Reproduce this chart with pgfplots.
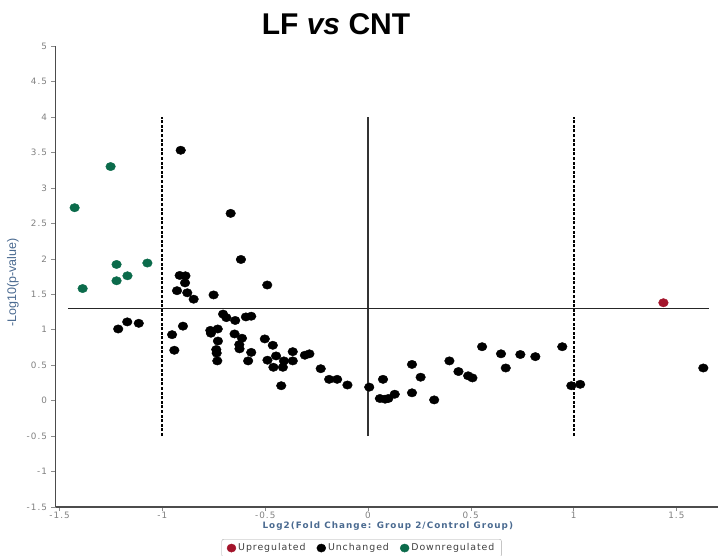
\documentclass[border=0pt]{standalone}
\usepackage{fontspec}
\setmainfont{Liberation Sans}
\newfontfamily\jfont[LetterSpace=12]{DejaVu Sans}
\newfontfamily\lfont[LetterSpace=10]{DejaVu Sans}
\usepackage{pgfplots}
\pgfplotsset{compat=1.18}
\definecolor{downc}{HTML}{0B6B4B}
\definecolor{upc}{HTML}{A3142B}
\definecolor{labc}{HTML}{4A6A90}
\begin{document}
\begin{tikzpicture}
\begin{axis}[
  at={(55.5pt,48pt)}, anchor=south west,
  scale only axis, width=662pt, height=461pt,
  xmin=-1.52, xmax=1.70, ymin=-1.5, ymax=5,
  axis x line=bottom, axis y line=left,
  axis line style={-, draw=black!70, line width=1.3pt},
  xtick={-1.5,-1,-0.5,0,0.5,1,1.5},
  ytick={-1.5,-1,-0.5,0,0.5,1,1.5,2,2.5,3,3.5,4,4.5,5},
  tick align=outside, major tick length=4pt,
  tick style={black!45, line width=0.5pt},
  /pgf/number format/assume math mode=true,
  ticklabel style={font=\jfont\fontsize{8.8}{10}\selectfont, text=black!50},
  xticklabel style={yshift=2.5pt},
  yticklabel style={xshift=-1pt},
  xlabel={Log2(Fold Change: Group 2/Control Group)},
  ylabel={-Log10(p-value)},
  x label style={at={(axis description cs:0.502,-0.0425)}, anchor=center, font=\jfont\bfseries\fontsize{8.8}{10}\selectfont, text=labc},
  y label style={at={(axis description cs:-0.0645,0.4865)}, anchor=center, font=\fontsize{12.5}{13}\selectfont, text=labc},
  legend columns=3,
  legend style={at={(0.4624,-0.0695)}, anchor=north, draw=black!35, rounded corners=2pt,
    font=\lfont\fontsize{9.4}{11}\selectfont, text=black!75, inner ysep=2.5pt, inner xsep=5pt,
    /tikz/every even column/.append style={column sep=9pt}},
  legend image code/.code={\fill[#1] (0pt,0pt) circle[x radius=4.5pt, y radius=4.1pt];},
  clip=false,
]
\addplot[forget plot, black, line width=2pt, dash pattern=on 3pt off 1.6pt] coordinates {(-1,-0.5) (-1,4)};
\addplot[forget plot, black, line width=2pt, dash pattern=on 3pt off 1.6pt] coordinates {(1,-0.5) (1,4)};
\addplot[forget plot, black!80, line width=2pt] coordinates {(0,-0.5) (0,4)};
\addplot[forget plot, black!85, line width=1.1pt] coordinates {(-1.46,1.301) (1.66,1.301)};
\addplot[only marks, mark=*, mark size=4.2pt, mark options={xscale=1.15, draw=upc, fill=upc}, draw=upc, fill=upc] coordinates {(1.437,1.38)};
\addlegendentry{Upregulated}
\addplot[only marks, mark=*, mark size=4.2pt, mark options={xscale=1.15, draw=black, fill=black}, draw=black, fill=black] coordinates {
(-0.911,3.53) (-0.668,2.64) (-0.618,1.99) (-0.916,1.765) (-0.888,1.76)
(-0.890,1.66) (-0.490,1.63) (-0.929,1.55) (-0.879,1.52) (-0.848,1.43)
(-0.751,1.49) (-1.215,1.01) (-1.171,1.11) (-1.115,1.09) (-0.953,0.93)
(-0.942,0.71) (-0.900,1.05) (-0.705,1.22) (-0.689,1.17) (-0.646,1.13)
(-0.594,1.18) (-0.568,1.19) (-0.767,0.99) (-0.764,0.95) (-0.731,1.01)
(-0.730,0.84) (-0.738,0.72) (-0.736,0.67) (-0.733,0.56) (-0.649,0.94)
(-0.613,0.88) (-0.626,0.79) (-0.625,0.73) (-0.568,0.68) (-0.583,0.56)
(-0.502,0.87) (-0.463,0.78) (-0.447,0.63) (-0.489,0.57) (-0.460,0.47)
(-0.409,0.56) (-0.414,0.47) (-0.366,0.69) (-0.366,0.56) (-0.422,0.21)
(-0.307,0.64) (-0.285,0.66) (-0.230,0.45) (-0.189,0.30) (-0.150,0.30)
(-0.100,0.22) (0.006,0.19) (0.073,0.30) (0.058,0.03) (0.083,0.02)
(0.099,0.03) (0.130,0.09) (0.214,0.51) (0.256,0.33) (0.214,0.11)
(0.322,0.01) (0.396,0.56) (0.440,0.41) (0.487,0.35) (0.508,0.32)
(0.555,0.76) (0.647,0.66) (0.670,0.46) (0.741,0.65) (0.814,0.62)
(0.945,0.76) (0.989,0.21) (1.032,0.23) (1.631,0.46)};
\addlegendentry{Unchanged}
\addplot[only marks, mark=*, mark size=4.2pt, mark options={xscale=1.15, draw=downc, fill=downc}, draw=downc, fill=downc] coordinates {
(-1.427,2.72) (-1.252,3.30) (-1.388,1.58) (-1.223,1.92) (-1.223,1.69) (-1.170,1.76) (-1.073,1.94)};
\addlegendentry{Downregulated}
\end{axis}
\node[anchor=base, font=\bfseries\fontsize{30}{32}\selectfont] at (336pt,520pt) {LF \textit{vs} CNT};
\pgfresetboundingbox
\useasboundingbox (0,0) rectangle (718pt,555pt);
\end{tikzpicture}
\end{document}
